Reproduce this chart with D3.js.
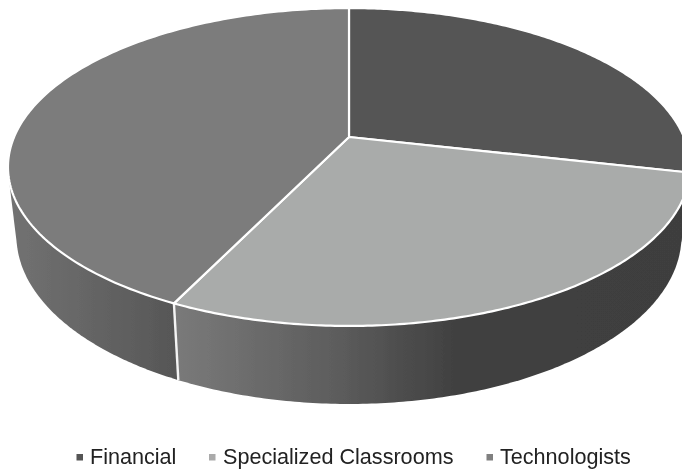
<!DOCTYPE html>
<html><head><meta charset="utf-8">
<script src="https://cdnjs.cloudflare.com/ajax/libs/d3/7.8.5/d3.min.js"></script>
<style>html,body{margin:0;padding:0;background:#fff;overflow:hidden}svg{display:block}</style>
</head><body><div id="c"></div>
<script>
const categories = ["Financial", "Specialized Classrooms", "Technologists"];
const values = [2, 2, 3];
const topColors = ["#545454", "#a9abaa", "#7b7b7b"];
const legendColors = ["#555555", "#aaaaaa", "#808080"];
const wallStops = [
  [["#3f3f3f", 0], ["#3f3f3f", 1]],
  [["#7a7a7a", 0], ["#5c5c5c", 0.32], ["#404040", 0.55], ["#3e3e3e", 1]],
  [["#727272", 0], ["#6a6a6a", 0.3], ["#565656", 1]]
];
const W = 682, H = 469;
const cx = 349, cy = 137, a = 334.9, b = 153.3, k = 0.1887;
const rimMidY = 167, baseMidY = 236, baseStretch = 168 / 159, shrink = 0.975;

const svg = d3.select("#c").append("svg").attr("width", W).attr("height", H);
const defs = svg.append("defs");
defs.append("filter").attr("id", "soft").attr("x", "-2%").attr("y", "-2%").attr("width", "104%").attr("height", "104%")
  .append("feGaussianBlur").attr("stdDeviation", 0.55);
const root = svg.append("g").attr("filter", "url(#soft)");

const pie = d3.pie().sort(null).value(d => d);
const arcs = pie(values);

// Perspective projection of the disc: angle 0 at top, clockwise
const project = t => {
  const u = Math.sin(t), v = -Math.cos(t), w = 1 - k * v;
  return [cx + a * u / w, cy + b * v / w];
};
const lower = p => [cx + (p[0] - cx) * shrink, baseMidY + (p[1] - rimMidY) * baseStretch];
const sample = (t0, t1) => d3.range(0, 161).map(i => t0 + (t1 - t0) * i / 160);
const line = d3.line();

// Walls: hull of the front-facing rim and its lowered copy
const frontStart = 1.30, frontEnd = 5.00;
arcs.forEach((d, i) => {
  const t0 = Math.max(d.startAngle, frontStart), t1 = Math.min(d.endAngle, frontEnd);
  if (t1 <= t0) return;
  const rim = sample(t0, t1).map(project);
  const hull = d3.polygonHull(rim.concat(rim.map(lower)));
  const xs = hull.map(p => p[0]);
  const id = "wall" + i;
  const g = defs.append("linearGradient").attr("id", id)
    .attr("gradientUnits", "userSpaceOnUse")
    .attr("x1", d3.min(xs)).attr("x2", d3.max(xs)).attr("y1", 0).attr("y2", 0);
  g.selectAll("stop").data(wallStops[i]).join("stop")
    .attr("stop-color", s => s[0]).attr("offset", s => s[1]);
  root.append("path").attr("d", line(hull) + "Z").attr("fill", `url(#${id})`);
});

// Divider on the wall between the visible wall pieces (the right one falls off the canvas)
arcs.forEach(d => {
  const t = d.startAngle;
  if (t < frontStart || t > frontEnd) return;
  const p = project(t);
  if (lower(p)[0] > W - 5) return;
  root.append("path").attr("d", line([p, lower(p)]))
    .attr("stroke", "#f4f4f4").attr("stroke-width", 2.4).attr("fill", "none");
});

// Top face slices
arcs.forEach((d, i) => {
  const rim = sample(d.startAngle, d.endAngle).map(project);
  root.append("path").attr("d", line([[cx, cy]].concat(rim)) + "Z")
    .attr("fill", topColors[i])
    .attr("stroke", "#ffffff").attr("stroke-width", 2.2).attr("stroke-linejoin", "round");
});

// Legend
const legendText = [90, 223, 500];
const legendMark = [76.5, 209, 486.5];
const lg = root.append("g").selectAll("g").data(categories).join("g");
lg.append("rect").attr("x", (d, i) => legendMark[i]).attr("y", 454).attr("width", 6.5).attr("height", 6.5)
  .attr("fill", (d, i) => legendColors[i]);
lg.append("text").attr("x", (d, i) => legendText[i]).attr("y", 463.5)
  .attr("font-family", "'Liberation Sans', Arial, sans-serif").attr("font-size", 21.6)
  .attr("fill", "#222222").text(d => d);
</script></body></html>
